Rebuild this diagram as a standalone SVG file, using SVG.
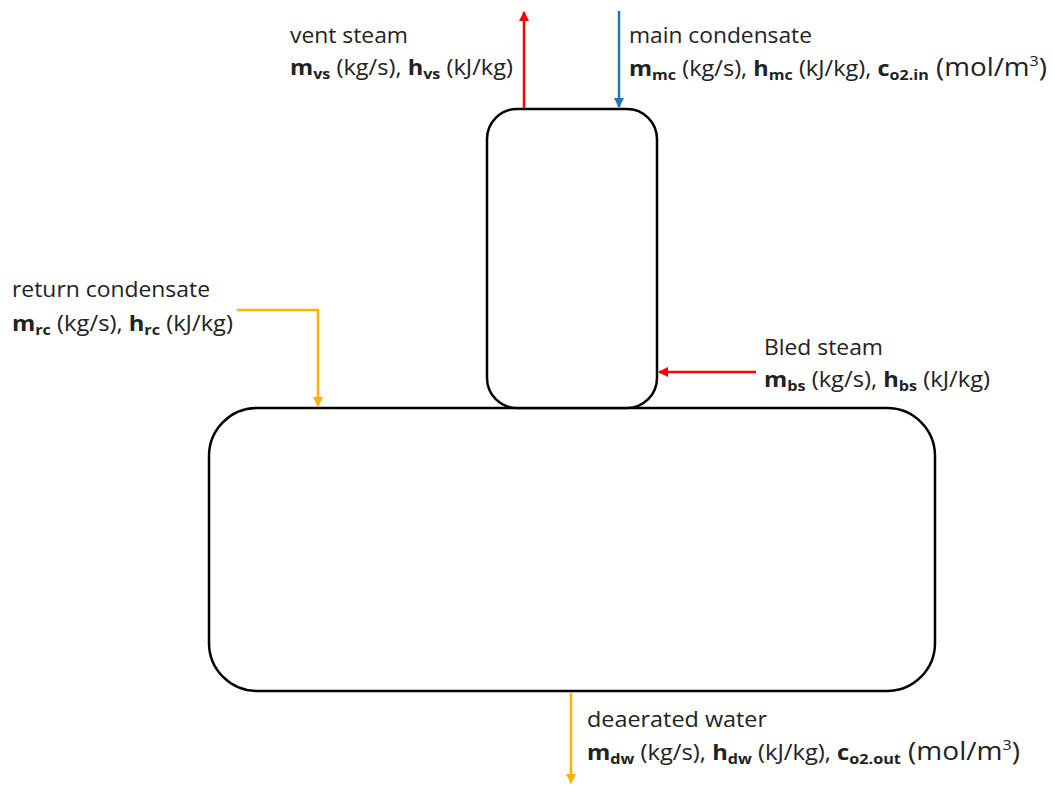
<svg xmlns="http://www.w3.org/2000/svg" width="1053" height="785" viewBox="0 0 1053 785">
<style>
.vessel{fill:#fff;stroke:#000;stroke-width:2.5}
.flow{fill:none;stroke-width:2.5}
.red{stroke:#FF0000}
.blue{stroke:#1F77B4}
.orange{stroke:#FFB000}
text{font-family:"Open Sans","Liberation Sans",sans-serif;font-size:22px;fill:#222}
.b{font-weight:bold}
.s{font-size:15px;font-weight:bold}
.big{font-size:26px}
.sup{font-size:15px}
</style>
<defs>
<marker id="aRed" markerWidth="10" markerHeight="10" refX="9" refY="5" orient="auto" markerUnits="userSpaceOnUse"><path d="M0,0 L10,5 L0,10 Z" fill="#FF0000"/></marker>
<marker id="aBlue" markerWidth="10" markerHeight="10" refX="9" refY="5" orient="auto" markerUnits="userSpaceOnUse"><path d="M0,0 L10,5 L0,10 Z" fill="#1F77B4"/></marker>
<marker id="aOrange" markerWidth="10" markerHeight="10" refX="9" refY="5" orient="auto" markerUnits="userSpaceOnUse"><path d="M0,0 L10,5 L0,10 Z" fill="#FFB000"/></marker>
</defs>
<rect width="1053" height="785" fill="#fff"/>
<g id="bottom-vessel"><rect class="vessel" x="209" y="408" width="726" height="283" rx="48" ry="48"/></g>
<g id="top-vessel"><rect class="vessel" x="487" y="109" width="170" height="299" rx="30" ry="30"/></g>
<g id="connectors">
<line class="flow red" x1="524" y1="108" x2="524" y2="12" marker-end="url(#aRed)"/>
<line class="flow blue" x1="619" y1="11" x2="619" y2="107" marker-end="url(#aBlue)"/>
<polyline class="flow orange" points="237,310 318,310 318,406" marker-end="url(#aOrange)"/>
<line class="flow red" x1="756" y1="372" x2="659" y2="372" marker-end="url(#aRed)"/>
<line class="flow orange" x1="571" y1="693" x2="571" y2="783" marker-end="url(#aOrange)"/>
</g>
<g id="label-vent">
<text x="290" y="43" textLength="118" lengthAdjust="spacingAndGlyphs">vent steam</text>
<text x="290" y="75" textLength="223" lengthAdjust="spacingAndGlyphs"><tspan class="b">m</tspan><tspan class="s" dy="4">vs</tspan><tspan dy="-4"> (kg/s), </tspan><tspan class="b">h</tspan><tspan class="s" dy="4">vs</tspan><tspan dy="-4"> (kJ/kg)</tspan></text>
</g>
<g id="label-main">
<text x="629" y="43" textLength="183" lengthAdjust="spacingAndGlyphs">main condensate</text>
<text x="629" y="76" textLength="418" lengthAdjust="spacingAndGlyphs"><tspan class="b">m</tspan><tspan class="s" dy="4">mc</tspan><tspan dy="-4"> (kg/s), </tspan><tspan class="b">h</tspan><tspan class="s" dy="4">mc</tspan><tspan dy="-4"> (kJ/kg), </tspan><tspan class="b">c</tspan><tspan class="s" dy="4">o2.in</tspan><tspan class="big" dy="-4"> (mol/m</tspan><tspan class="sup" dy="-10">3</tspan><tspan class="big" dy="10">)</tspan></text>
</g>
<g id="label-return">
<text x="12" y="297" textLength="198" lengthAdjust="spacingAndGlyphs">return condensate</text>
<text x="12" y="331" textLength="221" lengthAdjust="spacingAndGlyphs"><tspan class="b">m</tspan><tspan class="s" dy="4">rc</tspan><tspan dy="-4"> (kg/s), </tspan><tspan class="b">h</tspan><tspan class="s" dy="4">rc</tspan><tspan dy="-4"> (kJ/kg)</tspan></text>
</g>
<g id="label-bled">
<text x="764" y="355" textLength="119" lengthAdjust="spacingAndGlyphs">Bled steam</text>
<text x="764" y="387" textLength="226" lengthAdjust="spacingAndGlyphs"><tspan class="b">m</tspan><tspan class="s" dy="4">bs</tspan><tspan dy="-4"> (kg/s), </tspan><tspan class="b">h</tspan><tspan class="s" dy="4">bs</tspan><tspan dy="-4"> (kJ/kg)</tspan></text>
</g>
<g id="label-deaerated">
<text x="587" y="727" textLength="180" lengthAdjust="spacingAndGlyphs">deaerated water</text>
<text x="587" y="760" textLength="433" lengthAdjust="spacingAndGlyphs"><tspan class="b">m</tspan><tspan class="s" dy="4">dw</tspan><tspan dy="-4"> (kg/s), </tspan><tspan class="b">h</tspan><tspan class="s" dy="4">dw</tspan><tspan dy="-4"> (kJ/kg), </tspan><tspan class="b">c</tspan><tspan class="s" dy="4">o2.out</tspan><tspan class="big" dy="-4"> (mol/m</tspan><tspan class="sup" dy="-10">3</tspan><tspan class="big" dy="10">)</tspan></text>
</g>
</svg>
